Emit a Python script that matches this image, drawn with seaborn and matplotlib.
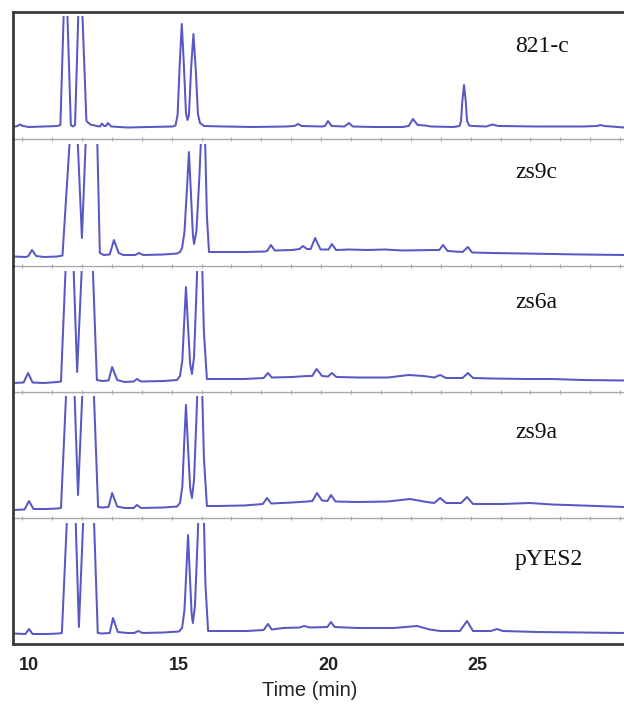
import matplotlib
matplotlib.use("Agg")
import matplotlib.pyplot as plt
import seaborn as sns
from matplotlib.patches import Rectangle
from matplotlib.ticker import MultipleLocator

# sample names, top to bottom
samples = ["821-c", "zs9c", "zs6a", "zs9a", "pYES2"]

# retention time (min) / detector response
t_821c = [9.46, 9.62, 9.70, 9.80, 10.00, 10.50, 10.95, 11.05, 11.22, 11.40, 11.47, 11.54, 11.71, 11.92,
          12.05, 12.27, 12.38, 12.44, 12.51, 12.57, 12.64, 12.75, 13.30, 14.00, 14.80, 14.90, 14.97,
          15.04, 15.11, 15.18, 15.25, 15.30, 15.35, 15.42, 15.50, 15.58, 15.65, 15.72, 15.85, 16.50,
          17.50, 18.60, 18.88, 19.00, 19.12, 19.80, 19.90, 20.00, 20.12, 20.55, 20.70, 20.83, 21.50,
          22.50, 22.70, 22.84, 23.00, 23.25, 23.45, 24.20, 24.40, 24.45, 24.49, 24.55, 24.61, 24.65,
          24.72, 24.85, 25.30, 25.49, 25.70, 27.00, 28.50, 29.00, 29.10, 29.25, 29.90]
i_821c = [2.0, 3.0, 4.5, 3.0, 2.0, 2.5, 3.0, 4.0, 175, 4.0, 2.5, 4.0, 175, 8.0,
          4.5, 3.0, 2.5, 5.5, 3.0, 3.0, 6.0, 2.5, 1.5, 2.0, 2.5, 3.5, 14,
          64, 105, 64, 16, 9.0, 14, 60, 95, 58, 15, 6.0, 3.0, 2.5,
          2.0, 2.5, 3.0, 5.0, 3.0, 2.5, 3.0, 8.0, 3.0, 2.5, 6.0, 2.5, 2.0,
          2.0, 3.0, 10.0, 4.0, 3.5, 2.5, 2.0, 3.0, 8.0, 27, 44, 27, 8.0,
          3.5, 3.0, 2.5, 4.5, 3.0, 2.5, 2.5, 3.0, 4.0, 3.0, 1.5]

t_zs9c = [9.46, 9.90, 9.98, 10.10, 10.24, 10.50, 10.95, 11.12, 11.52, 11.77, 12.14, 12.37, 12.50,
          12.70, 12.84, 13.00, 13.15, 13.55, 13.68, 13.82, 14.50, 14.95, 15.05, 15.12, 15.20, 15.28,
          15.35, 15.42, 15.48, 15.52, 15.60, 15.70, 15.84, 15.95, 16.02, 16.40, 17.20, 17.90, 17.98,
          18.09, 18.22, 18.80, 19.05, 19.16, 19.30, 19.42, 19.57, 19.75, 20.02, 20.13, 20.27, 20.70,
          21.30, 21.90, 22.50, 23.50, 23.72, 23.85, 24.00, 24.50, 24.68, 24.82, 25.50, 26.50, 27.50,
          28.50, 29.90]
i_zs9c = [-0.5, -1.0, 0.0, 6.0, 0.0, -1.0, -0.5, 0.5, 190, 18, 300, 3.0, 1.0,
          1.5, 16, 3.0, 1.0, 1.0, 3.0, 1.0, 1.5, 2.5, 4.0, 8.0, 24, 66,
          104, 60, 22, 12, 25, 80, 180, 40, 4.0, 4.0, 4.0, 4.5, 5.5,
          11, 5.5, 6.0, 7.0, 10, 7.0, 7.0, 18, 6.5, 6.5, 12, 6.0, 6.5,
          6.0, 6.5, 5.5, 6.0, 6.0, 11, 5.0, 4.0, 9.0, 3.5, 3.0, 2.5, 2.0,
          1.5, 1.0]

t_zs6a = [9.46, 9.82, 9.97, 10.12, 10.50, 10.95, 11.07, 11.37, 11.61, 11.97, 12.27, 12.45, 12.66,
          12.78, 12.95, 13.20, 13.50, 13.61, 13.75, 14.50, 14.95, 15.05, 15.13, 15.19, 15.25, 15.32,
          15.39, 15.45, 15.52, 15.60, 15.72, 15.85, 15.95, 16.30, 17.20, 17.85, 17.99, 18.12, 18.80,
          19.30, 19.47, 19.62, 19.80, 20.00, 20.13, 20.28, 21.00, 22.00, 22.70, 23.20, 23.55, 23.75,
          23.95, 24.50, 24.68, 24.85, 25.50, 26.60, 27.50, 28.50, 29.90]
i_zs6a = [-1.0, -0.5, 9.0, -0.5, -1.0, 0.0, 0.5, 220, 10, 250, 2.0, 1.0, 1.5,
          15, 2.0, 0.0, 0.5, 3.0, 0.5, 1.0, 2.0, 6.0, 22, 60, 95, 55,
          18, 8.0, 25, 90, 200, 50, 3.0, 3.0, 3.0, 4.0, 9.0, 4.5, 5.0,
          6.0, 6.0, 13, 6.0, 5.5, 9.0, 5.0, 4.5, 4.5, 7.0, 6.0, 4.5, 7.0,
          4.0, 4.0, 9.0, 4.0, 3.5, 3.0, 3.0, 2.0, 1.5]

t_zs9a = [9.46, 9.85, 10.00, 10.15, 10.60, 10.95, 11.07, 11.40, 11.64, 11.99, 12.31, 12.45, 12.66,
          12.78, 12.95, 13.20, 13.50, 13.61, 13.75, 14.50, 14.95, 15.05, 15.13, 15.19, 15.25, 15.32,
          15.39, 15.45, 15.52, 15.60, 15.72, 15.85, 15.95, 16.30, 17.20, 17.82, 17.96, 18.10, 18.80,
          19.30, 19.48, 19.63, 19.80, 19.98, 20.10, 20.25, 21.00, 22.00, 22.74, 23.30, 23.55, 23.75,
          23.95, 24.45, 24.65, 24.85, 25.80, 26.75, 27.50, 28.50, 29.90]
i_zs9a = [-2.0, -1.5, 7.0, -1.0, -1.0, -0.5, 0.0, 220, 13, 260, 1.0, 0.5, 1.0,
          15, 1.5, 0.0, 0.0, 3.0, 0.0, 0.5, 1.5, 5.0, 22, 65, 103, 60,
          20, 10, 28, 90, 200, 50, 2.0, 2.0, 2.5, 4.0, 10, 4.5, 5.5,
          6.5, 7.0, 15, 7.5, 7.0, 13, 6.5, 6.0, 6.5, 9.0, 6.0, 5.0, 10,
          5.0, 5.0, 11, 4.0, 4.0, 5.0, 3.5, 2.5, 1.0]

t_pyes2 = [9.46, 9.88, 10.00, 10.12, 10.60, 10.98, 11.10, 11.44, 11.67, 12.01, 12.30, 12.45, 12.70,
           12.81, 12.97, 13.30, 13.52, 13.65, 13.80, 14.50, 15.02, 15.12, 15.20, 15.26, 15.32, 15.38,
           15.44, 15.48, 15.55, 15.64, 15.77, 15.90, 15.99, 16.50, 17.30, 17.85, 17.99, 18.12, 18.50,
           19.05, 19.20, 19.40, 19.98, 20.10, 20.22, 21.00, 22.20, 22.98, 23.40, 23.75, 24.41, 24.65,
           24.85, 25.45, 25.65, 25.85, 27.00, 28.50, 29.90]
i_pyes2 = [0.5, 0.0, 5.0, 0.0, 0.0, 0.5, 1.0, 230, 7.0, 260, 1.0, 0.5, 1.0,
           16, 2.0, 1.0, 1.0, 3.0, 1.0, 1.5, 2.5, 6.0, 24, 62, 99, 58,
           20, 11, 28, 95, 220, 50, 3.0, 3.0, 3.0, 4.0, 10, 4.5, 6.0,
           6.5, 8.0, 6.5, 7.0, 12, 7.0, 6.0, 6.0, 8.0, 4.5, 3.0, 3.0, 13,
           3.0, 3.0, 5.0, 3.0, 2.0, 1.5, 1.0]

traces = [(t_821c, i_821c), (t_zs9c, i_zs9c), (t_zs6a, i_zs6a), (t_zs9a, i_zs9a), (t_pyes2, i_pyes2)]
time_ticks = [10, 15, 20, 25]

sns.set_style("white")
plt.rcParams["font.family"] = ["Liberation Sans", "DejaVu Sans"]

W, H = 624, 705
fig = plt.figure(figsize=(W / 100, H / 100), dpi=100)

# panel edges in pixels (top, bottom)
edges = [(12, 139), (139, 266), (266, 392), (392, 518), (518, 644)]
label_drop = [35, 34, 36, 41, 42]
line_col = "#5858c4"
frame_col = "#3a3a3a"
sep_col = "#a9a9a9"

for k, (name, (tt, ii)) in enumerate(zip(samples, traces)):
    top, bot = edges[k]
    h = bot - top
    ax = fig.add_axes([13 / W, 1 - bot / H, 1 - 13 / W, h / H])
    ax.set_facecolor("none")
    sns.lineplot(x=tt, y=ii, ax=ax, color=line_col, linewidth=1.45, estimator=None)
    ax.set_xlim(9.465, 29.9)
    ax.set_ylim(-10, h - 10)
    # tall peaks are cut a few pixels below the panel edge
    clip = Rectangle((0, 0), 1, 1 - 4.5 / h, transform=ax.transAxes)
    ax.lines[-1].set_clip_path(clip)

    ax.set_yticks([])
    ax.set_ylabel("")
    ax.spines["right"].set_visible(False)
    ax.spines["left"].set_color(frame_col)
    ax.spines["left"].set_linewidth(2)
    if k == 0:
        ax.spines["top"].set_color(frame_col)
        ax.spines["top"].set_linewidth(2)
    else:
        ax.spines["top"].set_visible(False)

    if k < len(samples) - 1:
        ax.spines["bottom"].set_color(sep_col)
        ax.spines["bottom"].set_linewidth(1)
        ax.xaxis.set_major_locator(MultipleLocator(1.0, offset=0.77))
        ax.tick_params(axis="x", direction="inout", length=3, width=0.8,
                       color=sep_col, labelbottom=False, bottom=True)
    else:
        ax.spines["bottom"].set_color(frame_col)
        ax.spines["bottom"].set_linewidth(2)
        ax.set_xticks(time_ticks)
        ax.set_xticklabels([str(v) for v in time_ticks], fontsize=13, fontweight="bold",
                           color="#222222")
        ax.tick_params(axis="x", length=0, pad=9)
        ax.set_xlabel("Time (min)", fontsize=14.5, color="#222222", va="center")
        ax.xaxis.set_label_coords((310 - 13) / (W - 13), -(690 - 644) / h)

    ax.text((515 - 13) / (W - 13), 1 - label_drop[k] / h, name, transform=ax.transAxes,
            ha="left", va="center", fontsize=17, family=["Liberation Serif", "DejaVu Serif"],
            color="#111111")

fig.savefig("out.png", dpi=100, facecolor="white")
